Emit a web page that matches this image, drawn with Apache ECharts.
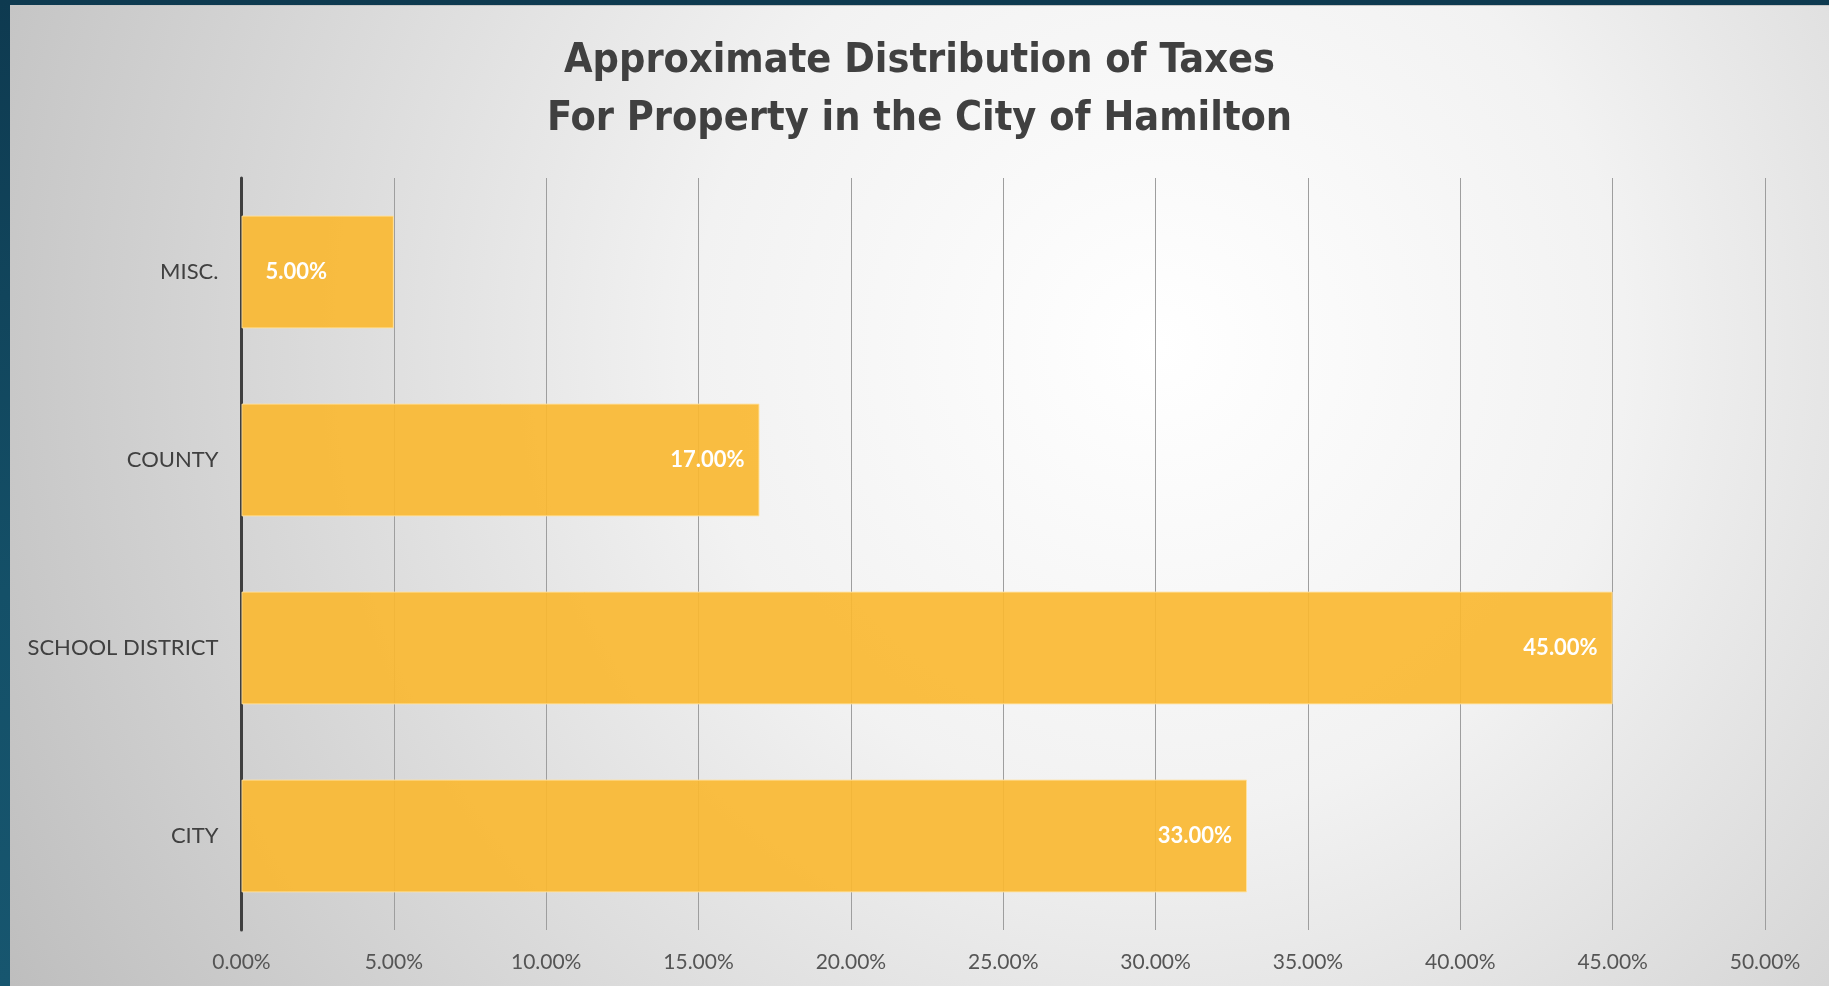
<!DOCTYPE html>
<html>
<head>
<meta charset="utf-8">
<script src="https://cdn.jsdelivr.net/npm/echarts@6/dist/echarts.min.js"></script>
<style>
  html, body { margin: 0; padding: 0; width: 1829px; height: 986px; overflow: hidden;
    background: linear-gradient(180deg, #0e3a50 0%, #145068 60%, #17566f 100%); }
  #chart { position: absolute; left: 10px; top: 5px; width: 1819px; height: 981px;
    border-top: 1px solid #c6c6c6; box-sizing: border-box; }
</style>
</head>
<body>
<div id="chart"></div>
<script>
const titleLines = ['Approximate Distribution of Taxes', 'For Property in the City of Hamilton'];
const categories = ['MISC.', 'COUNTY', 'SCHOOL DISTRICT', 'CITY'];
const values = [5, 17, 45, 33];
const axisMin = 0, axisMax = 50, axisStep = 5;

const chart = echarts.init(document.getElementById('chart'), null, { renderer: 'canvas' });
const fmt = v => v.toFixed(2) + '%';

const seriesData = values.map((v, i) => {
  const item = { value: v };
  if (v < 10) {
    item.label = { position: 'insideLeft', distance: 24 };
  }
  return item;
});

chart.setOption({
  backgroundColor: {
    type: 'radial', x: 1150, y: 340, r: 1330, global: true,
    colorStops: [
      { offset: 0, color: '#ffffff' },
      { offset: 0.35, color: '#f2f2f2' },
      { offset: 1, color: '#bdbdbd' }
    ]
  },
  animation: false,
  title: {
    text: titleLines.join('\n'),
    left: 'center',
    top: 21,
    textStyle: {
      fontFamily: "'Liberation Sans Narrow', 'DejaVu Sans Condensed', Roboto, sans-serif",
      fontWeight: 'bold',
      fontSize: 41,
      lineHeight: 58,
      color: '#404040'
    }
  },
  grid: { left: 231.5, right: 64, top: 172, bottom: 56, containLabel: false },
  xAxis: {
    type: 'value',
    min: axisMin, max: axisMax, interval: axisStep,
    axisLine: { show: false },
    axisTick: { show: false },
    splitLine: { show: true, lineStyle: { color: '#9e9e9e', width: 1 } },
    axisLabel: {
      formatter: v => fmt(v),
      color: '#555555',
      fontFamily: 'Lato, sans-serif',
      fontSize: 21,
      margin: 22
    }
  },
  yAxis: {
    type: 'category',
    data: categories,
    inverse: true,
    axisLine: { show: true, lineStyle: { color: '#3f3f3f', width: 3 } },
    axisTick: { show: false },
    axisLabel: {
      color: '#404040',
      fontFamily: 'Lato, sans-serif',
      fontSize: 22,
      margin: 23
    }
  },
  series: [{
    type: 'bar',
    data: seriesData,
    barCategoryGap: '40%',
    itemStyle: {
      color: 'rgba(250,184,50,0.92)',
      borderColor: 'rgba(255,226,160,0.9)',
      borderWidth: 1
    },
    label: {
      show: true,
      position: 'insideRight',
      distance: 15,
      formatter: p => fmt(p.value),
      color: '#ffffff',
      fontFamily: 'Lato, sans-serif',
      fontWeight: 'bold',
      fontSize: 22
    }
  }]
});
</script>
</body>
</html>
